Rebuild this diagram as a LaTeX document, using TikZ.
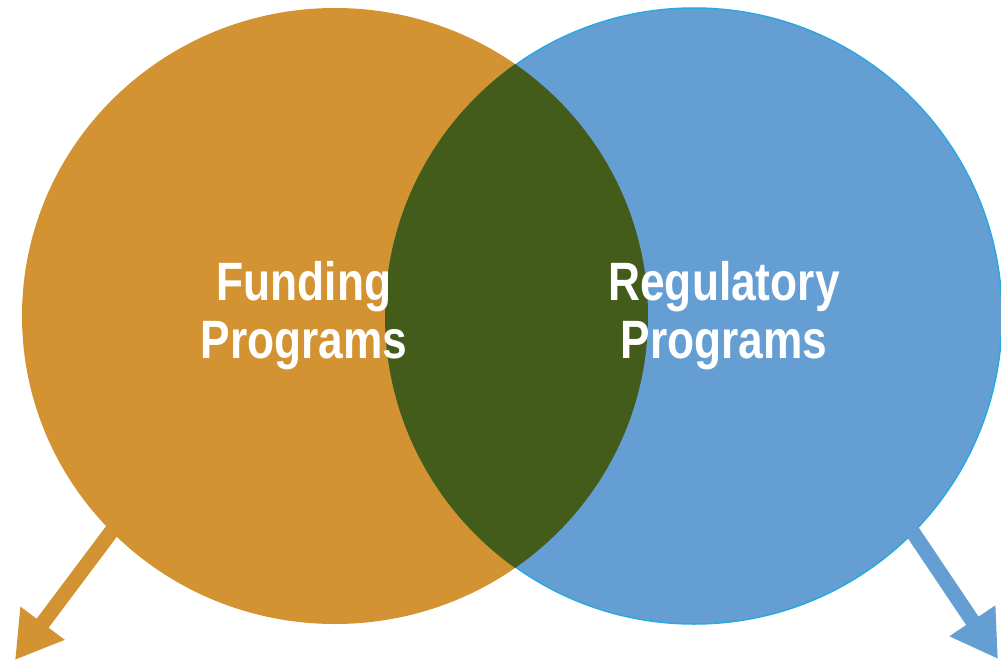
\documentclass[tikz,border=0pt]{standalone}
\usepackage{fontspec}
\newfontfamily\labelfont{Liberation Sans}[FakeStretch=0.82]
\usetikzlibrary{arrows.meta}
\definecolor{fundorange}{HTML}{D39332}
\definecolor{regblue}{HTML}{659ED3}
\definecolor{regedge}{HTML}{2AA8E0}
\definecolor{overlapgreen}{HTML}{435C19}
\begin{document}
\begin{tikzpicture}[x=1pt,y=-1pt,
    biglabel/.style={text=white,align=center,font=\labelfont\bfseries\fontsize{54}{58}\selectfont},
    bigarrow/.style={line width=15pt,-{Triangle[width=52pt,length=46pt]}}]
        \useasboundingbox (0,0) rectangle (1001,661);

        % two circles
        \fill[fundorange] (335,316) ellipse (313 and 308);
        \fill[regblue] (694,316) circle (308);
        \draw[regedge,line width=1.5pt] (694,316) circle (308);
        % overlap
        \begin{scope}
            \clip (335,316) ellipse (313 and 308);
            \fill[overlapgreen] (694,316) circle (309);
        \end{scope}

        % arrows out of the circles
        \coordinate (fundstart) at (120,520);
        \coordinate (fundend) at (15,660);
        \coordinate (regstart) at (910,528);
        \coordinate (regend) at (998,659);
        \draw[bigarrow,fundorange] (fundstart) -- (fundend);
        \draw[bigarrow,regblue] (regstart) -- (regend);

        % labels
        \node[biglabel] (funding) at (304,316) {Funding\\Programs};
        \node[biglabel] (regulatory) at (724,316) {Regulatory\\Programs};
    \end{tikzpicture}
\end{document}
